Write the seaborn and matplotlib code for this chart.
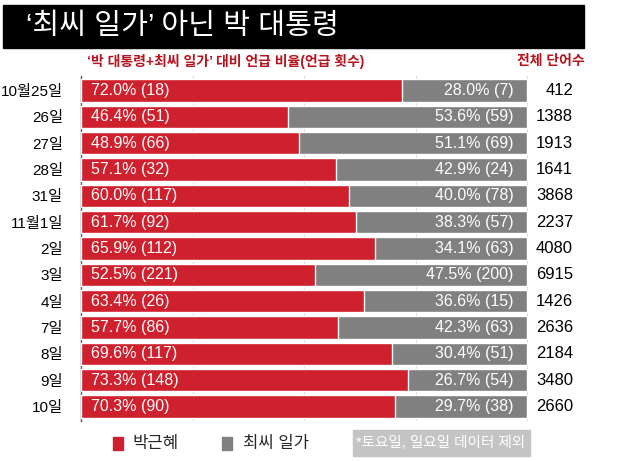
import matplotlib
matplotlib.use("Agg")
import matplotlib.pyplot as plt
import matplotlib.patches as mpatches
import seaborn as sns
import pandas as pd

# data ─────────────────────────────────────────────────────────────
dates = ["10월25일", "26일", "27일", "28일", "31일", "11월1일", "2일",
         "3일", "4일", "7일", "8일", "9일", "10일"]
park_pct = [72.0, 46.4, 48.9, 57.1, 60.0, 61.7, 65.9, 52.5, 63.4, 57.7, 69.6, 73.3, 70.3]
park_cnt = [18, 51, 66, 32, 117, 92, 112, 221, 26, 86, 117, 148, 90]
choi_pct = [28.0, 53.6, 51.1, 42.9, 40.0, 38.3, 34.1, 47.5, 36.6, 42.3, 30.4, 26.7, 29.7]
choi_cnt = [7, 59, 69, 24, 78, 57, 63, 200, 15, 63, 51, 54, 38]
total_words = [412, 1388, 1913, 1641, 3868, 2237, 4080, 6915, 1426, 2636, 2184, 3480, 2660]

RED = "#cf202e"
GRAY = "#808080"

sns.set_theme(style="white")
plt.rcParams["font.family"] = ["Liberation Sans", "Noto Sans CJK KR", "DejaVu Sans"]

df = pd.DataFrame({"date": dates, "park": park_pct, "choi": choi_pct})
df["stack"] = df["park"] + df["choi"]

fig = plt.figure(figsize=(6.2, 4.61), dpi=100)
ax = fig.add_axes([81 / 620, 1 - 421 / 461, 448 / 620, (421 - 76) / 461])

# stacked horizontal bars: gray full bar underneath, red on top
sns.barplot(data=df, x="stack", y="date", color=GRAY, width=0.84,
            saturation=1, ax=ax, zorder=2)
sns.barplot(data=df, x="park", y="date", color=RED, width=0.84,
            saturation=1, ax=ax, zorder=3)

ax.set_xlim(0, 100.4)
ax.set_ylim(len(dates) - 0.45, -0.55)
ax.set_xticks([25, 50, 75, 100])
ax.xaxis.grid(True, color="#dddddd", lw=0.8, zorder=0)
ax.set_xticklabels([])
ax.tick_params(axis="both", length=0)
ax.set_xlabel("")
ax.set_ylabel("")
for s in ["top", "right", "bottom"]:
    ax.spines[s].set_visible(False)
ax.spines["left"].set_color("#555555")
ax.spines["left"].set_linewidth(1.0)
ax.set_yticklabels(dates, fontsize=11, color="black")
ax.tick_params(axis="y", pad=13)

for i in range(len(dates)):
    ax.text(2.3, i, f"{park_pct[i]:.1f}% ({park_cnt[i]})", color="white",
            fontsize=11.5, va="center", ha="left", zorder=5)
    ax.text(97, i, f"{choi_pct[i]:.1f}% ({choi_cnt[i]})", color="white",
            fontsize=11.5, va="center", ha="right", zorder=5)

# total word counts in right column
for i, t in enumerate(total_words):
    y_disp = ax.transData.transform((0, i))[1]
    fig.text(573 / 620, y_disp / fig.dpi / 4.61, str(t), ha="right", va="center",
             fontsize=12, color="black")

# title bar
fig.patches.append(mpatches.Rectangle((3 / 620, 1 - 48 / 461), 581 / 620, 43 / 461,
                                      transform=fig.transFigure, color="black"))
fig.text(26 / 620, 1 - 26 / 461, "‘최씨 일가’ 아닌 박 대통령", color="white",
         fontsize=21, fontweight="medium", va="center", ha="left")

# sub headers
fig.text(87 / 620, 1 - 61 / 461, "‘박 대통령+최씨 일가’ 대비 언급 비율(언급 횟수)",
         color="#b5131e", fontsize=10, fontweight="bold", va="center", ha="left")
fig.text(585 / 620, 1 - 61 / 461, "전체 단어수", color="#b5131e", fontsize=10,
         fontweight="bold", va="center", ha="right")

# legend
fig.patches.append(mpatches.Rectangle((113 / 620, 1 - 450 / 461), 10 / 620, 13 / 461,
                                      transform=fig.transFigure, color=RED))
fig.text(133 / 620, 1 - 443 / 461, "박근혜", fontsize=12, va="center", ha="left")
fig.patches.append(mpatches.Rectangle((222 / 620, 1 - 450 / 461), 10 / 620, 13 / 461,
                                      transform=fig.transFigure, color=GRAY))
fig.text(243 / 620, 1 - 443 / 461, "최씨 일가", fontsize=12, va="center", ha="left")

# note box
fig.patches.append(mpatches.Rectangle((353 / 620, 1 - 456 / 461), 177 / 620, 26 / 461,
                                      transform=fig.transFigure, color="#c4c4c4"))
fig.text(441 / 620, 1 - 443 / 461, "*토요일, 일요일 데이터 제외", color="white",
         fontsize=10.5, va="center", ha="center")

fig.savefig("out.png", dpi=100)
